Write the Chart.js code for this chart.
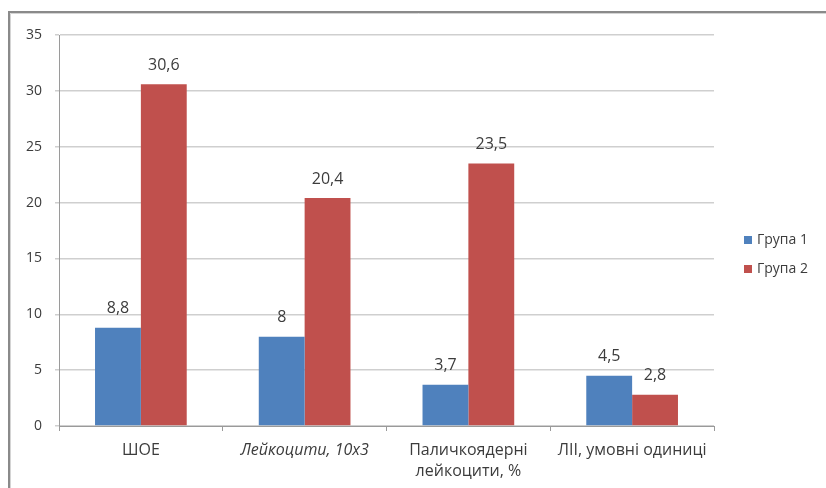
<!DOCTYPE html>
<html>
<head>
<meta charset="utf-8">
<script src="https://cdn.jsdelivr.net/npm/chart.js@4/dist/chart.umd.min.js"></script>
<style>
  html, body { margin: 0; padding: 0; background: #ffffff; }
  #wrap { width: 826px; height: 488px; position: relative; }
</style>
</head>
<body>
<div id="wrap"><canvas id="chart" width="826" height="488"></canvas></div>
<script>
// Categories along the x axis (the third one wraps onto two lines)
const categories = [
  "ШОЕ",
  "Лейкоцити, 10х3",
  ["Паличкоядерні", "лейкоцити, %"],
  "ЛІІ, умовні одиниці"
];
const seriesNames = ["Група 1", "Група 2"];
const group1 = [8.8, 8, 3.7, 4.5];
const group2 = [30.6, 20.4, 23.5, 2.8];
const yTicks = [0, 5, 10, 15, 20, 25, 30, 35];

const FONT = "'Open Sans', 'Noto Sans', sans-serif";
const TEXT = "#3c3c3c";

// Frame around the whole figure
const framePlugin = {
  id: "frame",
  beforeDraw(chart) {
    const c = chart.ctx;
    c.save();
    c.fillStyle = "#ffffff";
    c.fillRect(0, 0, chart.width, chart.height);
    c.strokeStyle = "#8a8a8a";
    c.lineWidth = 2;
    c.beginPath();
    c.moveTo(9, chart.height + 5);
    c.lineTo(9, 12);
    c.lineTo(chart.width + 5, 12);
    c.stroke();
    c.strokeStyle = "#d4d4d4";
    c.lineWidth = 1;
    c.beginPath();
    c.moveTo(10.5, chart.height + 5);
    c.lineTo(10.5, 13.5);
    c.lineTo(chart.width + 5, 13.5);
    c.stroke();
    c.restore();
  }
};

// Value labels above each bar, written with a decimal comma
const valueLabels = {
  id: "valueLabels",
  afterDatasetsDraw(chart) {
    const c = chart.ctx;
    c.save();
    c.font = "16px " + FONT;
    c.fillStyle = TEXT;
    c.textAlign = "center";
    c.textBaseline = "middle";
    chart.data.datasets.forEach((ds, di) => {
      const meta = chart.getDatasetMeta(di);
      meta.data.forEach((bar, i) => {
        const txt = String(ds.data[i]).replace(".", ",");
        c.fillText(txt, bar.x, bar.y - 19);
      });
    });
    c.restore();
  }
};

// Legend on the right side
const sideLegend = {
  id: "sideLegend",
  afterDraw(chart) {
    const c = chart.ctx;
    c.save();
    c.font = "14px " + FONT;
    c.textBaseline = "middle";
    c.textAlign = "left";
    chart.data.datasets.forEach((ds, i) => {
      const y = 240 + i * 29;
      c.fillStyle = ds.backgroundColor;
      c.fillRect(744, y - 4, 8, 8);
      c.fillStyle = TEXT;
      c.fillText(ds.label, 757, y);
    });
    c.restore();
  }
};

new Chart(document.getElementById("chart"), {
  type: "bar",
  data: {
    labels: categories,
    datasets: [
      { label: seriesNames[0], data: group1, backgroundColor: "#4F81BD" },
      { label: seriesNames[1], data: group2, backgroundColor: "#C0504D" }
    ]
  },
  options: {
    responsive: false,
    animation: false,
    devicePixelRatio: 1,
    layout: { padding: { left: 0, right: 112, top: 35, bottom: 0 } },
    datasets: { bar: { barPercentage: 1.0, categoryPercentage: 0.56 } },
    plugins: {
      legend: { display: false },
      tooltip: { enabled: false }
    },
    scales: {
      x: {
        grid: {
          offset: true,
          drawOnChartArea: false,
          drawTicks: true,
          tickLength: 5,
          color: "#9a9a9a"
        },
        border: { color: "#9a9a9a", width: 1 },
        ticks: {
          color: TEXT,
          padding: 9,
          maxRotation: 0,
          autoSkip: false,
          font: (ctx) => ({
            family: FONT,
            size: 16,
            lineHeight: 1.3,
            style: ctx.index === 1 ? "italic" : "normal"
          })
        },
        afterFit(scale) { scale.height = 62; }
      },
      y: {
        min: 0,
        max: 35,
        afterBuildTicks(scale) { scale.ticks = yTicks.map(v => ({ value: v })); },
        grid: { color: "#cfcfcf", lineWidth: 1.5, tickLength: 4 },
        border: { color: "#9a9a9a", width: 1 },
        ticks: {
          color: TEXT,
          padding: 13,
          font: { family: FONT, size: 14 }
        },
        afterFit(scale) { scale.width = 59; }
      }
    }
  },
  plugins: [framePlugin, valueLabels, sideLegend]
});
</script>
</body>
</html>
